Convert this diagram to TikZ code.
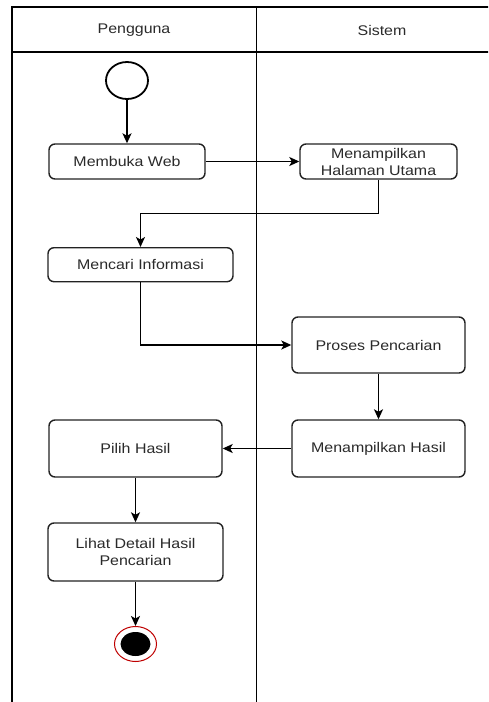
\documentclass[tikz,border=0pt]{standalone}
\usepackage{fontspec}
\setmainfont{Liberation Sans}[FakeStretch=1.14]
\usetikzlibrary{arrows.meta,shapes.geometric}
\definecolor{txt}{HTML}{2A2A2A}
\definecolor{edge}{HTML}{222222}
\begin{document}
\begin{tikzpicture}[x=1pt,y=-1pt,
  every node/.style={font=\fontsize{14}{17}\selectfont,text=txt},
  act/.style={draw=edge,line width=1.4pt,rounded corners=6pt,fill=white,
    align=center,inner sep=0pt},
  flow/.style={draw=black,line width=1.4pt,-{Stealth[length=10pt,width=9pt,inset=2.5pt]}},
  lane/.style={draw=black,line width=1.4pt},
  startnode/.style={ellipse,draw=black,line width=1.8pt,fill=white,
    minimum width=42pt,minimum height=37pt,inner sep=0pt},
  endring/.style={ellipse,draw=red!75!black,line width=1pt,fill=white,
    minimum width=42pt,minimum height=35pt,inner sep=0pt},
  enddot/.style={ellipse,fill=black,minimum width=30pt,minimum height=24pt,inner sep=0pt}]
\useasboundingbox (0,0) rectangle (488,702);
\begin{scope}
\clip (0,0) rectangle (488,702);
% swimlane frame
\draw[lane] (12,710) -- (12,7) -- (495,7);
\draw[lane] (12,52) -- (495,52);
\draw[lane] (256.5,7) -- (256.5,710);
\end{scope}
% lane headers
\node (hUser) at (134,30) {Pengguna};
\node (hSys) at (382,30) {Sistem};
% activities
\node[startnode] (start) at (127,80.5) {};
\node[act,minimum width=156pt,minimum height=35pt] (web) at (127,161.5) {Membuka Web};
\node[act,minimum width=157pt,minimum height=35pt] (home) at (378.5,161.5) {Menampilkan\\Halaman Utama};
\node[act,minimum width=185pt,minimum height=34pt] (search) at (140.5,264.7) {Mencari Informasi};
\node[act,minimum width=173pt,minimum height=56pt] (proc) at (378.5,345) {Proses Pencarian};
\node[act,minimum width=173pt,minimum height=57pt] (show) at (378.5,448.5) {Menampilkan Hasil};
\node[act,minimum width=173pt,minimum height=57pt] (pick) at (135.5,448.5) {Pilih Hasil};
\node[act,minimum width=175pt,minimum height=58pt] (detail) at (135.5,552) {Lihat Detail Hasil\\Pencarian};
\node[endring] (stop) at (135.5,644) {};
\node[enddot] (stopdot) at (stop.center) {};
% control flow
\draw[flow] (start.south) -- (web.north);
\draw[flow] (web.east) -- (home.west);
\draw[flow] (home.south) -- ++(0,34) -| (search.north);
\draw[flow] (search.south) |- (proc.west);
\draw[flow] (proc.south) -- (show.north);
\draw[flow] (show.west) -- (pick.east);
\draw[flow] (pick.south) -- (detail.north);
\draw[flow] (detail.south) -- (stop.north);
\end{tikzpicture}
\end{document}
